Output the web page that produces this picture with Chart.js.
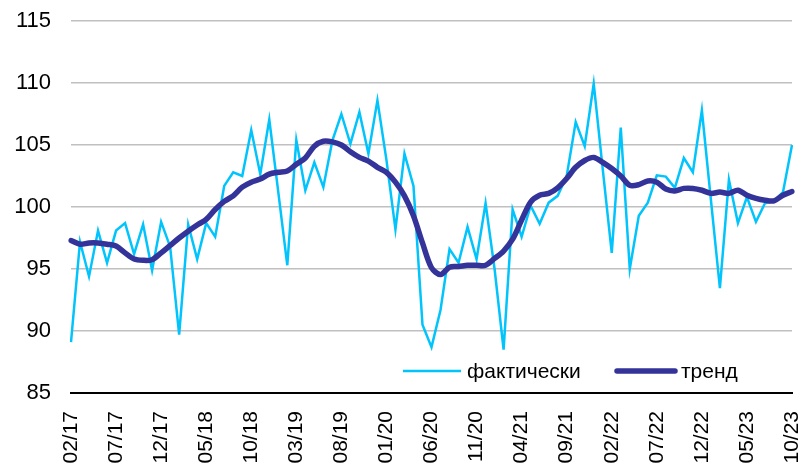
<!DOCTYPE html>
<html>
<head>
<meta charset="utf-8">
<script src="https://cdn.jsdelivr.net/npm/chart.js@4.4.1/dist/chart.umd.min.js"></script>
<style>
  html, body { margin: 0; padding: 0; background: #fff; }
  #wrap { width: 805px; height: 470px; }
</style>
</head>
<body>
<div id="wrap"><canvas id="grafico"></canvas></div>
<script>
// months 02/17 .. 10/23
const meses = [];
for (let a = 2017, m = 2; a < 2023 || (a === 2023 && m <= 10); ) {
  meses.push(String(m).padStart(2, '0') + '/' + String(a).slice(2));
  m++;
  if (m > 12) { m = 1; a++; }
}

const fakticheski = [
  89.1, 97.2, 94.4, 98.1, 95.5, 98.1, 98.7, 96.2, 98.6, 94.9,
  98.8, 96.8, 89.7, 98.6, 95.8, 98.7, 97.6, 101.7, 102.8, 102.5,
  106.2, 102.65, 107.05, 101.2, 95.3, 105.4, 101.35, 103.6, 101.6, 105.35,
  107.5, 105.1, 107.65, 104.3, 108.6, 103.8, 98.2, 104.3, 101.7, 90.5,
  88.7, 91.7, 96.6, 95.5, 98.4, 95.8, 100.3, 95.0, 88.5, 99.8,
  97.6, 100.1, 98.65, 100.35, 100.9, 102.5, 106.85, 104.9, 109.95, 103.05,
  96.3, 106.4, 95.0, 99.3, 100.35, 102.55, 102.45, 101.55, 103.95, 102.8,
  107.8, 100.6, 93.45, 102.2, 98.7, 100.8, 98.8, 100.3, 100.5, 101.2,
  105.0
];

const trend = [
  97.3, 97.0, 97.1, 97.1, 97.0, 96.85, 96.3, 95.8, 95.7, 95.75,
  96.3, 96.9, 97.5, 98.05, 98.55, 99.0, 99.8, 100.45, 100.9, 101.6,
  102.0, 102.25, 102.65, 102.8, 102.9, 103.45, 103.95, 104.9, 105.3, 105.25,
  105.0, 104.45, 104.0, 103.7, 103.2, 102.8, 102.0, 100.9, 99.3, 97.1,
  95.1, 94.55, 95.15, 95.2, 95.3, 95.3, 95.3, 95.85, 96.45, 97.4,
  98.95, 100.4, 100.95, 101.1, 101.55, 102.3, 103.2, 103.75, 104.0, 103.6,
  103.1, 102.5, 101.75, 101.8, 102.1, 102.0, 101.45, 101.3, 101.5, 101.5,
  101.35, 101.1, 101.2, 101.1, 101.35, 100.95, 100.7, 100.55, 100.5, 100.95,
  101.25
];

const yTicks = [85, 90, 95, 100, 105, 110, 115];

const fonte = 'Arial, "Liberation Sans", sans-serif';

// legenda dentro da área do gráfico, embaixo à direita
const legendaInterna = {
  id: 'legendaInterna',
  afterDraw(chart) {
    const { ctx, chartArea } = chart;
    const y = chartArea.bottom - 22;
    let x = chartArea.left + 332;
    ctx.save();
    ctx.font = '21px ' + fonte;
    ctx.textBaseline = 'middle';
    chart.data.datasets.forEach((ds) => {
      ctx.strokeStyle = ds.borderColor;
      ctx.lineWidth = ds.borderWidth;
      ctx.lineCap = ds.borderWidth > 3 ? 'round' : 'butt';
      ctx.beginPath();
      ctx.moveTo(x, y);
      ctx.lineTo(x + 58, y);
      ctx.stroke();
      ctx.fillStyle = '#000';
      ctx.fillText(ds.label, x + 64, y + 1);
      x += 214;
    });
    ctx.restore();
  }
};

new Chart(document.getElementById('grafico'), {
  type: 'line',
  data: {
    labels: meses,
    datasets: [
      {
        label: 'фактически',
        data: fakticheski,
        borderColor: '#00c4fb',
        borderWidth: 2.5,
        pointRadius: 0,
        tension: 0,
        order: 2
      },
      {
        label: 'тренд',
        data: trend,
        borderColor: '#333399',
        borderWidth: 5.5,
        pointRadius: 0,
        tension: 0.3,
        borderJoinStyle: 'round',
        borderCapStyle: 'round',
        order: 1
      }
    ]
  },
  options: {
    responsive: true,
    maintainAspectRatio: false,
    animation: false,
    layout: { padding: { top: 21, right: 13, bottom: 3, left: 0 } },
    plugins: {
      legend: { display: false },
      tooltip: { enabled: false }
    },
    scales: {
      x: {
        offset: false,
        grid: { display: false, drawTicks: false },
        border: { display: true, color: '#000', width: 2 },
        afterFit: (s) => { s.height = 74; s.paddingLeft = 0; s.paddingRight = 0; },
        ticks: {
          autoSkip: false,
          minRotation: 90,
          maxRotation: 90,
          padding: 18,
          color: '#000',
          font: { size: 21, family: fonte },
          callback: function (v, i) { return i % 5 === 0 ? meses[i] : ''; }
        }
      },
      y: {
        min: 85,
        max: 115,
        afterFit: (s) => { s.width = 71; s.paddingTop = 0; s.paddingBottom = 0; },
        afterBuildTicks: (s) => { s.ticks = yTicks.map((v) => ({ value: v })); },
        grid: { color: '#c0c0c0', lineWidth: 1.5, drawTicks: false },
        border: { display: false },
        ticks: {
          padding: 20,
          color: '#000',
          font: { size: 22, family: fonte }
        }
      }
    }
  },
  plugins: [legendaInterna]
});
</script>
</body>
</html>
